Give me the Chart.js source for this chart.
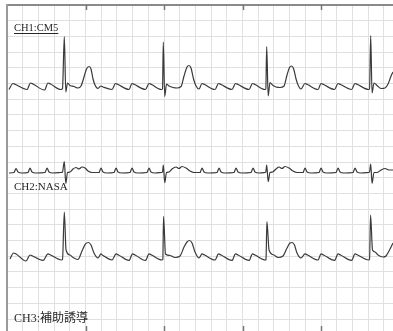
<!DOCTYPE html>
<html>
<head>
<meta charset="utf-8">
<script src="https://cdn.jsdelivr.net/npm/chart.js@4.4.1/dist/chart.umd.min.js"></script>
<style>
  html, body { margin: 0; padding: 0; background: #ffffff; }
  #wrap { width: 393px; height: 331px; position: relative; }
</style>
</head>
<body>
<div id="wrap"><canvas id="ecg"></canvas></div>
<script>
// Holter strip, 3 channels. Time in seconds, amplitude in mV relative to each channel's baseline.
const channelNames = ['CH1:CM5', 'CH2:NASA', 'CH3:補助誘導'];

const ch1 = [
  [0.025,-0.048],
  [0.076,0.143],[0.108,0.111],[0.255,-0.048],
  [0.299,0.159],[0.331,0.127],[0.478,-0.064],
  [0.522,0.159],[0.554,0.127],[0.688,-0.048],
  [0.707,-0.016],[0.730,1.640],[0.749,-0.127],[0.771,0.159],[0.803,0.080],
  [0.854,0.048],[0.904,0],[0.943,0.064],
  [0.981,0.350],[1.013,0.605],[1.045,0.685],[1.070,0.605],[1.096,0.287],[1.121,0.096],[1.159,-0.016],
  [1.197,0.064],[1.223,0.032],[1.338,-0.048],
  [1.382,0.143],[1.414,0.111],[1.554,-0.048],
  [1.592,0.143],[1.624,0.111],[1.764,-0.048],
  [1.809,0.143],[1.841,0.111],[1.968,-0.048],
  [1.981,-0.032],[1.991,1.465],[2.009,-0.271],[2.032,0.127],[2.064,0.064],
  [2.115,0.016],[2.166,0],[2.217,0.048],
  [2.255,0.382],[2.293,0.669],[2.318,0.717],[2.344,0.637],[2.376,0.287],[2.408,0.064],[2.446,-0.032],
  [2.484,0.143],[2.516,0.111],[2.650,-0.048],
  [2.694,0.143],[2.726,0.111],[2.866,-0.048],
  [2.911,0.143],[2.943,0.111],[3.083,-0.048],
  [3.127,0.143],[3.159,0.111],[3.287,-0.048],
  [3.297,-0.032],[3.308,1.322],[3.327,-0.255],[3.350,0.175],[3.382,0.096],
  [3.427,0.032],[3.478,0.016],[3.529,0.064],
  [3.567,0.414],[3.599,0.653],[3.624,0.701],[3.650,0.621],[3.682,0.287],[3.713,0.064],[3.745,-0.032],
  [3.796,0.143],[3.828,0.111],[3.962,-0.048],
  [4.000,0.143],[4.032,0.111],[4.172,-0.048],
  [4.217,0.143],[4.248,0.111],[4.389,-0.048],
  [4.433,0.143],[4.465,0.111],[4.605,-0.048],
  [4.618,-0.032],[4.633,1.672],[4.650,-0.159],[4.675,0.159],[4.713,0.080],
  [4.764,-0.016],[4.815,0],[4.854,0.127],[4.892,0.382],[4.917,0.510]
];

const ch2 = [
  [0.025,-0.032],[0.089,-0.016],[0.115,0.111],[0.140,0],[0.191,-0.032],
  [0.268,-0.016],[0.293,0.127],[0.318,0],[0.369,-0.032],
  [0.484,-0.016],[0.510,0.127],[0.535,0],[0.586,-0.032],[0.688,-0.016],
  [0.707,0],[0.730,0.334],[0.749,-0.366],[0.771,-0.016],[0.803,0],
  [0.841,0.096],[0.879,0.143],[0.917,0.096],[0.955,0.159],[0.994,0.127],[1.032,0.032],[1.083,-0.016],
  [1.172,-0.016],[1.197,0.127],[1.223,0],[1.274,-0.032],
  [1.363,-0.016],[1.389,0.127],[1.414,0],[1.465,-0.032],
  [1.567,-0.016],[1.592,0.127],[1.618,0],[1.669,-0.032],
  [1.783,-0.016],[1.809,0.127],[1.834,0],[1.885,-0.032],[1.968,-0.016],
  [1.981,0],[1.991,0.223],[2.009,-0.341],[2.032,-0.016],[2.064,0],
  [2.102,0.096],[2.153,0.159],[2.191,0.111],[2.229,0.175],[2.280,0.127],[2.331,0.032],[2.382,-0.016],
  [2.459,-0.016],[2.484,0.127],[2.510,0],[2.561,-0.032],
  [2.675,-0.016],[2.701,0.127],[2.726,0],[2.777,-0.032],
  [2.892,-0.016],[2.917,0.127],[2.943,0],[2.994,-0.032],
  [3.108,-0.016],[3.134,0.127],[3.159,0],[3.210,-0.032],[3.287,-0.016],
  [3.297,0],[3.308,0.223],[3.327,-0.309],[3.350,-0.016],[3.382,0],
  [3.427,0.096],[3.465,0.159],[3.503,0.111],[3.541,0.175],[3.592,0.127],[3.643,0.032],[3.694,-0.016],
  [3.771,-0.016],[3.796,0.127],[3.822,0],[3.873,-0.032],
  [3.975,-0.016],[4.000,0.127],[4.025,0],[4.076,-0.032],
  [4.191,-0.016],[4.217,0.127],[4.242,0],[4.293,-0.032],
  [4.408,-0.016],[4.433,0.127],[4.459,0],[4.510,-0.032],[4.605,-0.016],
  [4.618,0],[4.633,0.255],[4.650,-0.360],[4.675,-0.016],[4.713,-0.016],[4.764,0.064],[4.815,0.111],[4.866,0.064],[4.917,0.064]
];

const ch3 = [
  [0.038,-0.064],[0.083,0.127],[0.115,0.096],[0.242,-0.127],
  [0.293,0.064],[0.325,0.032],[0.459,-0.111],
  [0.522,0.096],[0.554,0.064],[0.694,-0.096],
  [0.707,-0.080],[0.730,1.433],[0.752,0.223],[0.803,0.064],[0.841,-0.016],[0.904,-0.080],
  [0.955,0.191],[1.000,0.414],[1.038,0.462],[1.070,0.382],[1.108,0.127],[1.159,-0.032],
  [1.197,0.096],[1.223,0.048],[1.338,-0.096],
  [1.389,0.096],[1.420,0.064],[1.554,-0.111],
  [1.599,0.096],[1.631,0.064],[1.764,-0.111],
  [1.809,0.096],[1.841,0.064],[1.975,-0.096],
  [1.985,-0.080],[1.994,1.290],[2.019,0.096],[2.076,0.048],[2.140,-0.016],[2.204,0.032],
  [2.255,0.318],[2.293,0.478],[2.325,0.525],[2.357,0.446],[2.395,0.159],[2.446,-0.032],
  [2.484,0.096],[2.516,0.064],[2.650,-0.096],
  [2.694,0.096],[2.726,0.064],[2.866,-0.111],
  [2.911,0.096],[2.943,0.064],[3.083,-0.111],
  [3.127,0.096],[3.159,0.064],[3.293,-0.096],
  [3.299,-0.080],[3.311,1.131],[3.338,0.223],[3.401,0.064],[3.452,-0.016],[3.516,0.032],
  [3.567,0.287],[3.605,0.446],[3.631,0.462],[3.662,0.382],[3.694,0.127],[3.745,-0.032],
  [3.796,0.096],[3.828,0.064],[3.962,-0.096],
  [4.000,0.096],[4.032,0.064],[4.172,-0.111],
  [4.217,0.096],[4.248,0.064],[4.389,-0.111],
  [4.433,0.096],[4.465,0.064],[4.605,-0.096],
  [4.618,-0.080],[4.631,1.338],[4.656,0.223],[4.688,0.159],[4.726,0.064],[4.790,0],[4.828,0.032],[4.866,0.191],[4.917,0.446]
];

// Baseline of each channel on the strip (mV below the top edge)
const baselines = [-2.643, -5.318, -8.025];
// One-second marks along the strip edges
const secondMarks = [1, 2, 3, 4];

// Paper: 0.2 s and 0.5 mV per grid square
const STRIP_SECONDS = 4.917;
const STRIP_MV = 10.382;

const traces = [ch1, ch2, ch3].map((pts, i) => ({
  label: channelNames[i],
  data: pts.map(([t, v]) => ({ x: t, y: baselines[i] + v })),
  borderColor: '#3a3a3a',
  borderWidth: 1.2,
  pointRadius: 0,
  cubicInterpolationMode: 'monotone',
  fill: false
}));

const stripDecor = {
  id: 'stripDecor',
  afterDraw(chart) {
    const { ctx, chartArea, scales } = chart;
    ctx.save();
    // second marks on top and bottom edges
    ctx.strokeStyle = '#777';
    ctx.lineWidth = 1.5;
    secondMarks.forEach(s => {
      const px = Math.round(scales.x.getPixelForValue(s)) + 0.5;
      ctx.beginPath();
      ctx.moveTo(px, chartArea.top);
      ctx.lineTo(px, chartArea.top + 5);
      ctx.moveTo(px, chartArea.bottom - 5);
      ctx.lineTo(px, chartArea.bottom);
      ctx.stroke();
    });
    // channel captions
    ctx.fillStyle = '#262626';
    ctx.textBaseline = 'middle';
    ctx.textAlign = 'left';
    const left = chartArea.left + 7;
    ctx.font = '10.5px "Liberation Serif", "Noto Sans CJK JP", serif';
    ctx.fillText(channelNames[0], left, 28.5);
    const w = ctx.measureText(channelNames[0]).width;
    ctx.strokeStyle = '#262626';
    ctx.lineWidth = 1;
    ctx.beginPath();
    ctx.moveTo(left, 33.5);
    ctx.lineTo(left + w, 33.5);
    ctx.stroke();
    ctx.font = '11px "Liberation Serif", "Noto Sans CJK JP", serif';
    ctx.fillText(channelNames[1], left, 187.5);
    ctx.font = '12px "Liberation Serif", "Noto Sans CJK JP", serif';
    ctx.fillText(channelNames[2], left, 318.5);
    ctx.restore();
  }
};

new Chart(document.getElementById('ecg'), {
  type: 'line',
  data: { datasets: traces },
  options: {
    responsive: true,
    maintainAspectRatio: false,
    animation: false,
    layout: { padding: { left: 7, top: 5, right: 0, bottom: 0 } },
    plugins: { legend: { display: false }, tooltip: { enabled: false } },
    scales: {
      x: {
        type: 'linear',
        position: 'top',
        min: 0,
        max: STRIP_SECONDS,
        ticks: { display: false, stepSize: 0.2, includeBounds: false },
        grid: { color: '#e0e0e0', lineWidth: 1, drawTicks: false },
        border: { display: true, color: '#8a8a8a', width: 2 }
      },
      y: {
        type: 'linear',
        position: 'left',
        min: -STRIP_MV,
        max: 0,
        ticks: { display: false, stepSize: 0.5, includeBounds: false },
        grid: { color: '#e0e0e0', lineWidth: 1, drawTicks: false },
        border: { display: true, color: '#9a9a9a', width: 2 }
      }
    }
  },
  plugins: [stripDecor]
});
</script>
</body>
</html>
